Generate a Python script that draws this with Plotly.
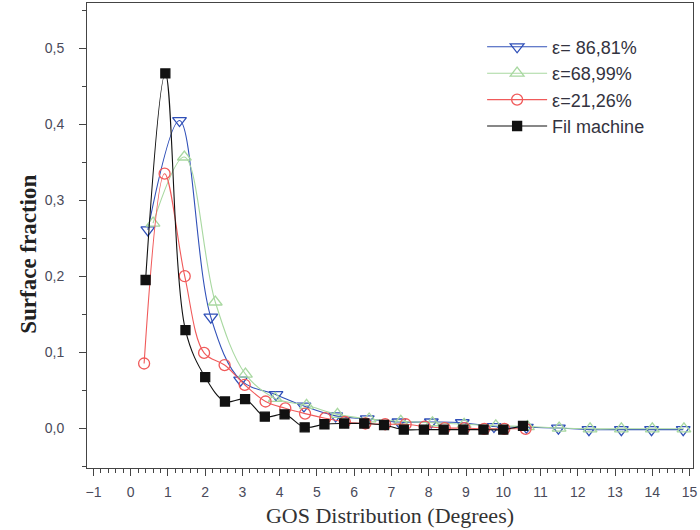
import plotly.graph_objects as go

# ---- data ----
blue_name = "ε= 86,81%"
blue_x = [0.46, 1.31, 2.15, 2.95, 3.9, 4.65, 5.5, 6.35, 7.2, 8.07, 8.9, 9.75, 10.62, 11.48, 12.3, 13.17, 13.98, 14.83]
blue_y = [0.261, 0.405, 0.146, 0.063, 0.044, 0.029, 0.016, 0.012, 0.008, 0.008, 0.007, 0.002, 0.001, 0.0, -0.002, -0.002, -0.002, -0.002]

green_name = "ε=68,99%"
green_x = [0.6, 1.44, 2.27, 3.08, 3.88, 4.72, 5.55, 6.4, 7.25, 8.1, 8.95, 9.8, 10.65, 11.5, 12.33, 13.17, 14.0, 14.85]
green_y = [0.27, 0.357, 0.166, 0.071, 0.039, 0.03, 0.018, 0.012, 0.009, 0.007, 0.005, 0.003, 0.002, 0.0, -0.001, -0.001, -0.001, -0.001]

red_name = "ε=21,26%"
red_x = [0.36, 0.91, 1.45, 1.97, 2.52, 3.06, 3.62, 4.15, 4.68, 5.22, 5.75, 6.3, 6.83, 7.38, 7.89, 8.43, 8.96, 9.49, 10.03, 10.6]
red_y = [0.085, 0.335, 0.2, 0.099, 0.083, 0.057, 0.035, 0.026, 0.019, 0.013, 0.008, 0.006, 0.005, 0.005, 0.002, 0.0, 0.0, -0.001, -0.001, -0.001]

black_name = "Fil machine"
black_x = [0.4, 0.93, 1.47, 2.0, 2.53, 3.07, 3.6, 4.13, 4.67, 5.2, 5.73, 6.27, 6.8, 7.33, 7.87, 8.4, 8.93, 9.47, 10.0, 10.53]
black_y = [0.195, 0.467, 0.129, 0.067, 0.035, 0.038, 0.015, 0.018, 0.001, 0.005, 0.006, 0.006, 0.004, -0.002, -0.002, -0.002, -0.002, -0.002, -0.002, 0.003]

x_tick_vals = list(range(-1, 16))
y_tick_vals = [0.0, 0.1, 0.2, 0.3, 0.4, 0.5]
x_title = "GOS Distribution (Degrees)"
y_title = "Surface fraction"

fig = go.Figure()

def add(xs, ys, name, color, symbol, size, fill=None):
    fig.add_trace(go.Scatter(
        x=xs, y=ys, name=name, mode="lines+markers",
        line=dict(color=color, width=1.1, shape="spline", smoothing=1.0),
        marker=dict(symbol=symbol, size=size,
                    color=fill if fill else "rgba(255,255,255,0)",
                    line=dict(color=color, width=1.3)),
    ))

add(blue_x, blue_y, blue_name, "#3050b8", "triangle-down", 12)
add(green_x, green_y, green_name, "#a8d8a0", "triangle-up", 12)
add(red_x, red_y, red_name, "#f05a5a", "circle", 11)
add(black_x, black_y, black_name, "#111111", "square", 9, fill="#111111")

axis_common = dict(
    showline=True, linecolor="#444444", linewidth=1, mirror=True,
    showgrid=False, zeroline=False, ticks="outside", tickcolor="#444444",
    tickfont=dict(family="Liberation Sans, Arial", size=14, color="#4a4a5a"),
)

fig.update_xaxes(
    range=[-1.173, 15.093], tickvals=x_tick_vals, ticklen=7, tickwidth=1,
    ticklabeloverflow="allow", ticklabelstandoff=4,
    minor=dict(dtick=0.2, ticks="outside", ticklen=4, tickcolor="#444444"),
    title=dict(text=x_title, font=dict(family="Liberation Serif, Times New Roman", size=22, color="#333333"), standoff=8),
    **axis_common,
)
fig.update_yaxes(
    range=[-0.0526, 0.5598], tickvals=y_tick_vals, tickformat=".1f", ticklen=7, tickwidth=1,
    minor=dict(dtick=0.05, ticks="outside", ticklen=4, tickcolor="#444444"),
    ticklabelstandoff=12,
    **axis_common,
)

fig.add_annotation(
    text="<b>" + y_title + "</b>", textangle=-90,
    xref="paper", yref="paper", x=-0.097, y=0.459,
    xanchor="center", yanchor="middle", showarrow=False,
    font=dict(family="Liberation Serif, Times New Roman", size=23, color="#222222"),
)

fig.update_layout(
    width=700, height=530,
    margin=dict(l=87, r=3, t=2, b=62),
    plot_bgcolor="white", paper_bgcolor="white",
    separators=", ",
    showlegend=True,
    legend=dict(x=0.652, y=0.945, xanchor="left", yanchor="top",
                bgcolor="rgba(255,255,255,0)",
                font=dict(family="Liberation Sans, Arial", size=18, color="#333340"),
                itemwidth=60),
)

fig.write_html("out.html")
